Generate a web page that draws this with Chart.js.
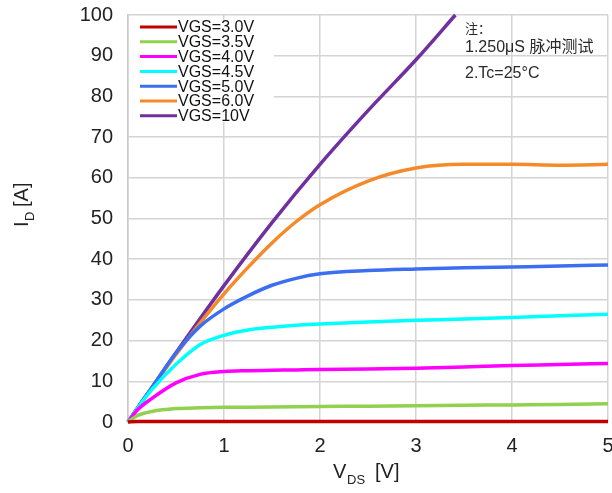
<!DOCTYPE html>
<html>
<head>
    <meta charset="UTF-8">
    <title>ID - VDS</title>
    <script src="https://cdn.jsdelivr.net/npm/chart.js@4.4.1/dist/chart.umd.min.js"></script>
    <style>
        body { margin: 0; background: #fff; }
        #wrap { width: 612px; height: 493px; }
    </style>
</head>
<body>
    <div id="wrap"><canvas id="myChart" width="612" height="493"></canvas></div>
    <script>
        // V_DS grid (V) shared by most curves
        var vds = [0, 0.1, 0.25, 0.5, 0.75, 1, 1.25, 1.5, 1.75, 2, 2.5, 3, 3.5, 4, 4.5, 5];
        var id30 = [0, 0.1, 0.12, 0.15, 0.15, 0.15, 0.15, 0.15, 0.15, 0.15, 0.15, 0.15, 0.15, 0.15, 0.15, 0.15];
        var id35 = [0, 1.6, 2.6, 3.3, 3.5, 3.6, 3.65, 3.7, 3.75, 3.8, 3.9, 4.0, 4.1, 4.2, 4.3, 4.5];
        var id40 = [0, 3.0, 5.8, 9.6, 11.7, 12.4, 12.6, 12.7, 12.8, 12.9, 13.0, 13.2, 13.5, 13.9, 14.1, 14.4];
        var id45 = [0, 3.4, 8.0, 14.2, 19, 21.3, 22.6, 23.3, 23.8, 24.1, 24.6, 25.0, 25.3, 25.7, 26.1, 26.5];
        var id50 = [0, 3.5, 8.5, 17, 23.5, 27.8, 31, 33.6, 35.3, 36.4, 37.2, 37.6, 37.9, 38.1, 38.3, 38.6];
        var id60 = [0, 3.4, 8.4, 16.6, 24.3, 31.5, 38, 44, 49.2, 53.4, 59.2, 62.4, 63.3, 63.3, 63.1, 63.3];
        // VGS=10V leaves the plot at 100 A
        var vds10 = [0, 0.5, 1, 1.5, 2, 2.5, 3, 3.41];
        var id10 = [0, 17, 33.5, 49, 63.3, 76.5, 89, 100];

        var labels = ['VGS=3.0V', 'VGS=3.5V', 'VGS=4.0V', 'VGS=4.5V', 'VGS=5.0V', 'VGS=6.0V', 'VGS=10V'];
        var colors = ['#c00000', '#92d050', '#ff00ff', '#00ffff', '#3b6ef0', '#f58a2a', '#7030a0'];
        var yTicks = [0, 10, 20, 30, 40, 50, 60, 70, 80, 90, 100];
        var xTicks = [0, 1, 2, 3, 4, 5];
        var notes = ['注：', '1.250μS 脉冲测试', '2.Tc=25°C'];

        function pts(xs, ys) {
            return xs.map(function(x, i) { return { x: x, y: ys[i] }; });
        }

        var series = [pts(vds, id30), pts(vds, id35), pts(vds, id40), pts(vds, id45),
                      pts(vds, id50), pts(vds, id60), pts(vds10, id10)];

        var FONT = '"Liberation Sans", Arial, sans-serif';

        // legend box, notes and axis titles with subscripts
        var extras = {
            id: 'extras',
            afterDatasetsDraw: function(chart) {
                var ctx = chart.ctx, a = chart.chartArea;
                ctx.save();
                ctx.fillStyle = '#fff';
                ctx.fillRect(a.left + 1, a.top + 5, 145, 102);
                ctx.font = '16px ' + FONT;
                ctx.textBaseline = 'middle';
                chart.data.datasets.forEach(function(ds, i) {
                    var y = a.top + 12 + i * 14.8;
                    ctx.strokeStyle = ds.borderColor;
                    ctx.lineWidth = 3;
                    ctx.beginPath();
                    ctx.moveTo(a.left + 12, y);
                    ctx.lineTo(a.left + 49, y);
                    ctx.stroke();
                    ctx.fillStyle = '#111';
                    ctx.fillText(ds.label, a.left + 50, y + 1);
                });

                ctx.fillStyle = '#2a2a2a';
                ctx.font = '13px "Noto Sans CJK SC", ' + FONT;
                ctx.fillText(notes[0], 465, 28);
                ctx.font = '16px ' + FONT + ', "Noto Sans CJK SC"';
                ctx.fillText(notes[1], 465, 48);
                ctx.fillText(notes[2], 465, 74);

                // x title
                ctx.fillStyle = '#222';
                ctx.textBaseline = 'alphabetic';
                ctx.font = '20px ' + FONT;
                var x0 = 333, yb = 478;
                ctx.fillText('V', x0, yb);
                ctx.font = '13px ' + FONT;
                ctx.fillText('DS', x0 + 14, yb + 6);
                ctx.font = '20px ' + FONT;
                ctx.fillText('[V]', x0 + 42, yb);

                // y title
                ctx.translate(28, 227);
                ctx.rotate(-Math.PI / 2);
                ctx.font = '20px ' + FONT;
                ctx.fillText('I', 0, 0);
                ctx.font = '13px ' + FONT;
                ctx.fillText('D', 6, 6);
                ctx.font = '20px ' + FONT;
                ctx.fillText('[A]', 20, 0);
                ctx.restore();
            }
        };

        new Chart('myChart', {
            type: 'line',
            data: {
                datasets: series.map(function(d, i) {
                    return {
                        label: labels[i],
                        data: d,
                        borderColor: colors[i],
                        backgroundColor: colors[i],
                        borderWidth: 3.5,
                        pointRadius: 0,
                        cubicInterpolationMode: 'monotone',
                        clip: 4
                    };
                })
            },
            options: {
                responsive: false,
                animation: false,
                layout: { padding: { top: 15, right: 4, left: 0, bottom: 0 } },
                plugins: { legend: { display: false }, tooltip: { enabled: false } },
                scales: {
                    x: {
                        type: 'linear', min: 0, max: 5,
                        afterBuildTicks: function(s) { s.ticks = xTicks.map(function(v) { return { value: v }; }); },
                        afterFit: function(s) { s.height = 71; s.paddingLeft = 0; s.paddingRight = 0; },
                        grid: { color: '#d4d4d4', lineWidth: 1.5, drawTicks: false },
                        border: { color: '#c8c8c8', width: 1.5 },
                        ticks: { color: '#222', font: { size: 20, family: FONT }, padding: 12, maxRotation: 0 }
                    },
                    y: {
                        min: 0, max: 100,
                        afterBuildTicks: function(s) { s.ticks = yTicks.map(function(v) { return { value: v }; }); },
                        afterFit: function(s) { s.width = 128; s.paddingTop = 0; s.paddingBottom = 0; },
                        grid: { color: '#d4d4d4', lineWidth: 1.5, drawTicks: false },
                        border: { color: '#c8c8c8', width: 1.5 },
                        ticks: { color: '#222', font: { size: 20, family: FONT }, padding: 15 }
                    }
                }
            },
            plugins: [extras]
        });
    </script>
</body>
</html>
